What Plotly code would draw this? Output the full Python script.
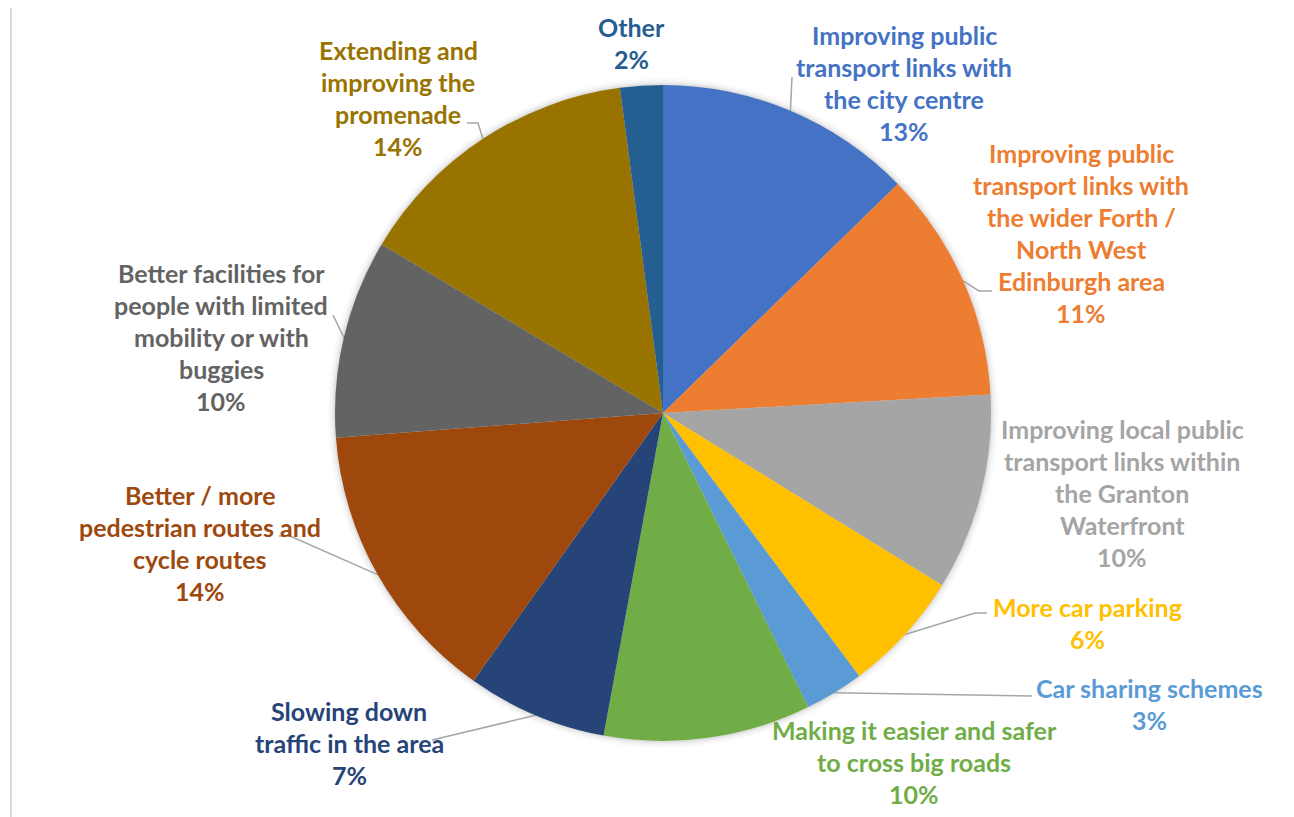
import math
import plotly.graph_objects as go

W, H = 1294, 817

# ---------------- data ----------------
categories = [
    "Improving public transport links with the city centre",
    "Improving public transport links with the wider Forth / North West Edinburgh area",
    "Improving local public transport links within the Granton Waterfront",
    "More car parking",
    "Car sharing schemes",
    "Making it easier and safer to cross big roads",
    "Slowing down traffic in the area",
    "Better / more pedestrian routes and cycle routes",
    "Better facilities for people with limited mobility or with buggies",
    "Extending and improving the promenade",
    "Other",
]
values = [12.7, 11.4, 9.7, 6.0, 2.9, 10.2, 6.9, 14.0, 9.8, 14.3, 2.1]
label_lines = [
    ["Improving public", "transport links with", "the city centre"],
    ["Improving public", "transport links with", "the wider Forth /", "North West", "Edinburgh area"],
    ["Improving local public", "transport links within", "the Granton", "Waterfront"],
    ["More car parking"],
    ["Car sharing schemes"],
    ["Making it easier and safer", "to cross big roads"],
    ["Slowing down", "traffic in the area"],
    ["Better / more", "pedestrian routes and", "cycle routes"],
    ["Better facilities for", "people with limited", "mobility or with", "buggies"],
    ["Extending and", "improving the", "promenade"],
    ["Other"],
]
colors = ["#4472C4", "#ED7D31", "#A5A5A5", "#FFC000", "#5B9BD5", "#70AD47",
          "#264478", "#9E480E", "#636363", "#997300", "#255E91"]

# ---------------- layout constants ----------------
OFF = 8  # page body margin offset
CX, CY, R = 663, 413, 328
LINE_PITCH = 32
FONT = "Lato"
FSIZE = 25
label_pos = [(904, 35), (1081, 153), (1122, 429), (1087, 607), (1149, 688),
             (914, 730), (349, 711), (200, 495), (221, 273), (398, 50), (631, 27)]
leader_ends = {
    0: [(792, 77)],
    1: [(979, 291), (992, 291)],
    3: [(975, 613), (987, 613)],
    4: [(1032, 696)],
    6: [(432, 740)],
    7: [(290, 536), (279, 536)],
    8: [(333, 315)],
    9: [(478, 123), (467, 123)],
}

fig = go.Figure()

fx0, fx1 = (CX - OFF - R) / W, (CX - OFF + R) / W
fy0, fy1 = 1 - (CY - OFF + R) / H, 1 - (CY - OFF - R) / H
fig.add_trace(go.Pie(
    labels=categories, values=values, sort=False, direction="clockwise",
    rotation=0, marker=dict(colors=colors, line=dict(width=0)),
    textinfo="none", hoverinfo="label+percent", showlegend=False,
    domain=dict(x=[fx0, fx1], y=[fy0, fy1]),
))

# leader lines start at the mid-angle of each slice on the pie edge
total = sum(values)
cum = 0.0
mids = []
for v in values:
    mids.append((cum + v / 2) / total * 2 * math.pi)
    cum += v

for i, pts in leader_ends.items():
    a = mids[i]
    sx, sy = CX + R * math.sin(a), CY - R * math.cos(a)
    xs = [sx] + [p[0] for p in pts]
    ys = [sy] + [p[1] for p in pts]
    fig.add_trace(go.Scatter(x=xs, y=ys, mode="lines", line=dict(color="#A6A6A6", width=1.5),
                             hoverinfo="skip", showlegend=False))

annotations = []
for i, lines in enumerate(label_lines):
    x0, y0 = label_pos[i]
    all_lines = lines + [f"{round(values[i])}%"]
    for j, t in enumerate(all_lines):
        annotations.append(dict(
            x=x0, y=y0 + j * LINE_PITCH, xref="x", yref="y", text=t, showarrow=False,
            xanchor="center", yanchor="middle",
            font=dict(family=FONT, size=FSIZE, color=colors[i], weight="bold"),
        ))

shapes = [dict(type="rect", xref="x", yref="y", x0=11, y0=6, x1=W + 30, y1=H + 30,
               line=dict(color="#D9D9D9", width=2), fillcolor="rgba(0,0,0,0)", layer="below")]
for k, op in [(7, 0.02), (5, 0.025), (3, 0.035), (1.5, 0.05)]:
    shapes.append(dict(type="circle", xref="x", yref="y", x0=CX - R - k, x1=CX + R + k,
                       y0=CY - R - k, y1=CY + R + k, line=dict(width=0),
                       fillcolor=f"rgba(0,0,0,{op})", layer="below"))

fig.update_layout(
    width=W, height=H, margin=dict(l=0, r=0, t=0, b=0),
    paper_bgcolor="white", plot_bgcolor="white",
    xaxis=dict(range=[OFF, W + OFF], domain=[0, 1], visible=False, fixedrange=True),
    yaxis=dict(range=[H + OFF, OFF], domain=[0, 1], visible=False, fixedrange=True),
    annotations=annotations, shapes=shapes,
)

fig.write_html("out.html")
